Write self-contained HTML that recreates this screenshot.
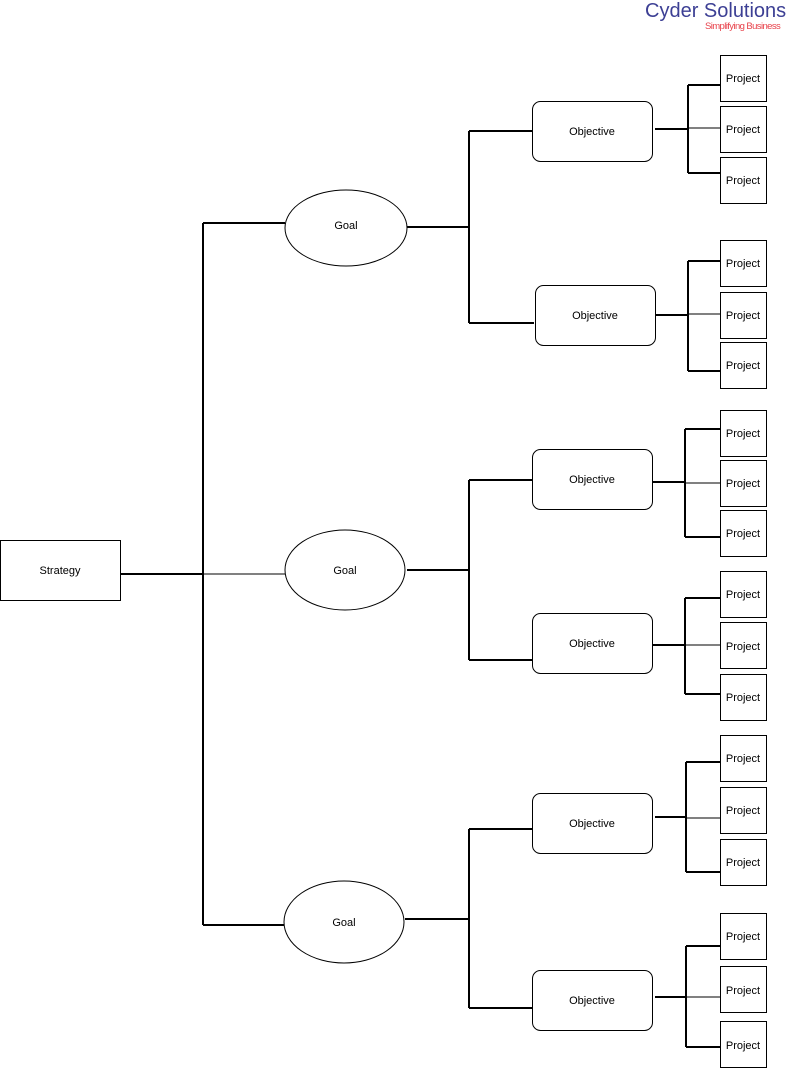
<!DOCTYPE html>
<html><head><style>body{margin:0;background:#fff}svg{display:block}text{font-family:"Liberation Sans",Arial,sans-serif;font-size:11px;fill:#000}</style></head><body>
<svg width="792" height="1069" viewBox="0 0 792 1069" xmlns="http://www.w3.org/2000/svg">
<text x="645" y="17" style="font-size:20px;fill:#3c3f94">Cyder Solutions</text>
<text x="705" y="29" style="font-size:9.5px;fill:#e8414a;letter-spacing:-0.6px">Simplifying Business</text>
<g fill="none" stroke="#000" stroke-width="2">
<path d="M121 574H203M203 223V925M203 223H285M203 925H285"/>
<path d="M203 574H285" stroke-width="1"/>
<path d="M407 227H469M469 131V323M469 131H532M469 323H534"/>
<path d="M407 570H469M469 480V660M469 480H532M469 660H532"/>
<path d="M405 919H469M469 829V1008M469 829H532M469 1008H532"/>
<path d="M655 129H688M688 85V173M688 85H720M688 173H720"/>
<path d="M655 315H688M688 261V371M688 261H720M688 371H720"/>
<path d="M652 482H685M685 429V537M685 429H720M685 537H720"/>
<path d="M652 645H685M685 598V694M685 598H720M685 694H720"/>
<path d="M655 817H686M686 762V872M686 762H720M686 872H720"/>
<path d="M655 997H686M686 946V1047M686 946H720M686 1047H720"/>
</g>
<g fill="none" stroke="#000" stroke-width="1">
<path d="M688 128H720M688 314H720M685 483H720M685 645H720M686 818H720M686 997H720"/>
<rect x="0.5" y="540.5" width="120" height="60" fill="#fff"/>
<ellipse cx="346" cy="228" rx="61" ry="38" fill="#fff"/>
<ellipse cx="345" cy="570" rx="60" ry="40" fill="#fff"/>
<ellipse cx="344" cy="922" rx="60" ry="41" fill="#fff"/>
<rect x="532.5" y="101.5" width="120" height="60" rx="8" fill="#fff"/>
<rect x="535.5" y="285.5" width="120" height="60" rx="8" fill="#fff"/>
<rect x="532.5" y="449.5" width="120" height="60" rx="8" fill="#fff"/>
<rect x="532.5" y="613.5" width="120" height="60" rx="8" fill="#fff"/>
<rect x="532.5" y="793.5" width="120" height="60" rx="8" fill="#fff"/>
<rect x="532.5" y="970.5" width="120" height="60" rx="8" fill="#fff"/>
<g fill="#fff">
<rect x="720.5" y="55.5" width="46" height="46"/><rect x="720.5" y="106.5" width="46" height="46"/><rect x="720.5" y="157.5" width="46" height="46"/>
<rect x="720.5" y="240.5" width="46" height="46"/><rect x="720.5" y="292.5" width="46" height="46"/><rect x="720.5" y="342.5" width="46" height="46"/>
<rect x="720.5" y="410.5" width="46" height="46"/><rect x="720.5" y="460.5" width="46" height="46"/><rect x="720.5" y="510.5" width="46" height="46"/>
<rect x="720.5" y="571.5" width="46" height="46"/><rect x="720.5" y="622.5" width="46" height="46"/><rect x="720.5" y="674.5" width="46" height="46"/>
<rect x="720.5" y="735.5" width="46" height="46"/><rect x="720.5" y="787.5" width="46" height="46"/><rect x="720.5" y="839.5" width="46" height="46"/>
<rect x="720.5" y="913.5" width="46" height="46"/><rect x="720.5" y="966.5" width="46" height="46"/><rect x="720.5" y="1021.5" width="46" height="46"/>
</g></g>
<g text-anchor="middle">
<text x="60" y="574">Strategy</text>
<text x="346" y="229">Goal</text><text x="345" y="574">Goal</text><text x="344" y="926">Goal</text>
<text x="592" y="135">Objective</text><text x="595" y="319">Objective</text><text x="592" y="483">Objective</text>
<text x="592" y="647">Objective</text><text x="592" y="827">Objective</text><text x="592" y="1004">Objective</text>
<text x="743" y="82">Project</text><text x="743" y="133">Project</text><text x="743" y="184">Project</text>
<text x="743" y="267">Project</text><text x="743" y="319">Project</text><text x="743" y="369">Project</text>
<text x="743" y="437">Project</text><text x="743" y="487">Project</text><text x="743" y="537">Project</text>
<text x="743" y="598">Project</text><text x="743" y="650">Project</text><text x="743" y="701">Project</text>
<text x="743" y="762">Project</text><text x="743" y="814">Project</text><text x="743" y="866">Project</text>
<text x="743" y="940">Project</text><text x="743" y="994">Project</text><text x="743" y="1049">Project</text>
</g>
</svg>
</body></html>
